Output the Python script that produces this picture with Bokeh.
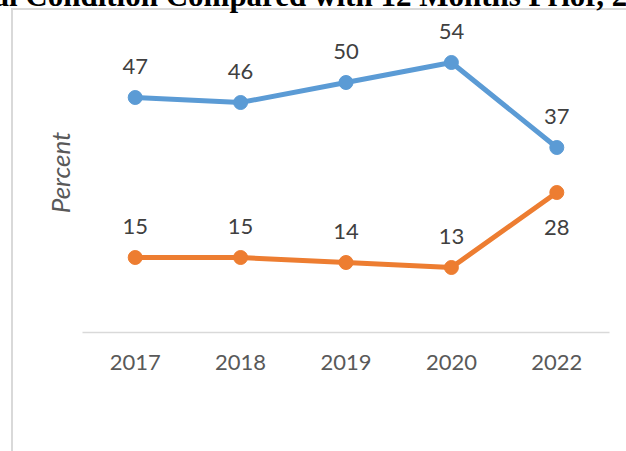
from bokeh.plotting import figure
from bokeh.models import (ColumnDataSource, FactorRange, Range1d, LabelSet,
                          Legend, LegendItem, FixedTicker)
from bokeh.core.properties import value
from bokeh.embed import file_html
from bokeh.resources import INLINE

# ---- data ----
years = ["2017", "2018", "2019", "2020", "2022"]
better_off = [47, 46, 50, 54, 37]
worse_off = [15, 15, 14, 13, 28]
series_names = ["Better off", "Worse off"]
title_text = "Financial Condition Compared with 12 Months Prior, 2017\u20132022"
y_label = "Percent"

BLUE = "#5B9BD5"
ORANGE = "#ED7D31"
FONT = "Lato"
GRID = "#D9D9D9"

ABOVE, BELOW = 31, -35
better_off_offsets = [ABOVE for _ in better_off]
worse_off_offsets = [BELOW if (b - w) < 10 else ABOVE for b, w in zip(better_off, worse_off)]

src_b = ColumnDataSource(dict(x=years, y=better_off, t=[str(v) for v in better_off], off=better_off_offsets))
src_w = ColumnDataSource(dict(x=years, y=worse_off, t=[str(v) for v in worse_off], off=worse_off_offsets))

TOP = 30  # canvas extends this far above the page top
p = figure(frame_width=527, frame_height=320, x_range=FactorRange(factors=years, range_padding=0),
           y_range=Range1d(0, 64), output_backend="svg", toolbar_location=None,
           min_border_left=82, min_border_right=17, min_border_top=43, min_border_bottom=40,
           title=title_text)
p.margin = (-31, -8, -20, 0)
p.outline_line_color = None
p.xgrid.visible = False
p.ygrid.visible = False
p.background_fill_alpha = 0
p.border_fill_alpha = 0
p.styles = {
    "background": (f"linear-gradient({GRID},{GRID}) 11px {9 + TOP}px / 2px 100% no-repeat, "
                   f"linear-gradient({GRID},{GRID}) 11px {9 + TOP}px / 100% 2px no-repeat, white")
}

# cut-off title at the very top
p.title.align = "left"
p.title.offset = -189
p.title.standoff = 0
p.title.text_font = "Liberation Serif"
p.title.text_font_style = "bold"
p.title.text_font_size = "31px"
p.title.text_color = "black"

# x axis
xa = p.xaxis[0]
xa.axis_line_color = GRID
xa.axis_line_width = 1.5
xa.major_tick_line_color = None
xa.minor_tick_line_color = None
xa.major_label_text_font = FONT
xa.major_label_text_font_size = "22px"
xa.major_label_text_color = "#595959"
xa.major_label_standoff = 16

# y axis (label only)
ya = p.yaxis[0]
ya.ticker = FixedTicker(ticks=[])
ya.bounds = (0, 60)
ya.major_label_text_font_size = "0px"
ya.axis_line_color = None
ya.major_tick_line_color = None
ya.minor_tick_line_color = None
ya.axis_label = y_label
ya.axis_label_text_font = FONT
ya.axis_label_text_font_size = "26px"
ya.axis_label_text_font_style = "italic"
ya.axis_label_text_color = "#595959"
ya.axis_label_standoff = 7

lb = p.line("x", "y", source=src_b, line_width=5, line_color=BLUE, line_cap="round", line_join="round")
sb = p.scatter("x", "y", source=src_b, size=14, fill_color=BLUE, line_color=BLUE)
lw = p.line("x", "y", source=src_w, line_width=5, line_color=ORANGE, line_cap="round", line_join="round")
sw = p.scatter("x", "y", source=src_w, size=14, fill_color=ORANGE, line_color=ORANGE)

for src in (src_b, src_w):
    p.add_layout(LabelSet(x="x", y="y", text="t", y_offset="off", source=src,
                          text_align="center", text_baseline="middle",
                          text_font=value(FONT), text_font_size=value("22px"), text_color="#404040"))

legend = Legend(items=[LegendItem(label=series_names[0], renderers=[lb, sb]),
                       LegendItem(label=series_names[1], renderers=[lw, sw])],
                orientation="horizontal", location="top_center",
                glyph_width=56, glyph_height=30, label_height=30, label_width=121,
                label_standoff=3, spacing=0, padding=0, margin=24,
                border_line_color=None, background_fill_alpha=0,
                label_text_font=FONT, label_text_font_size="22px", label_text_color="#595959")
p.add_layout(legend, "below")

open("out.html", "w").write(file_html(p, INLINE))
